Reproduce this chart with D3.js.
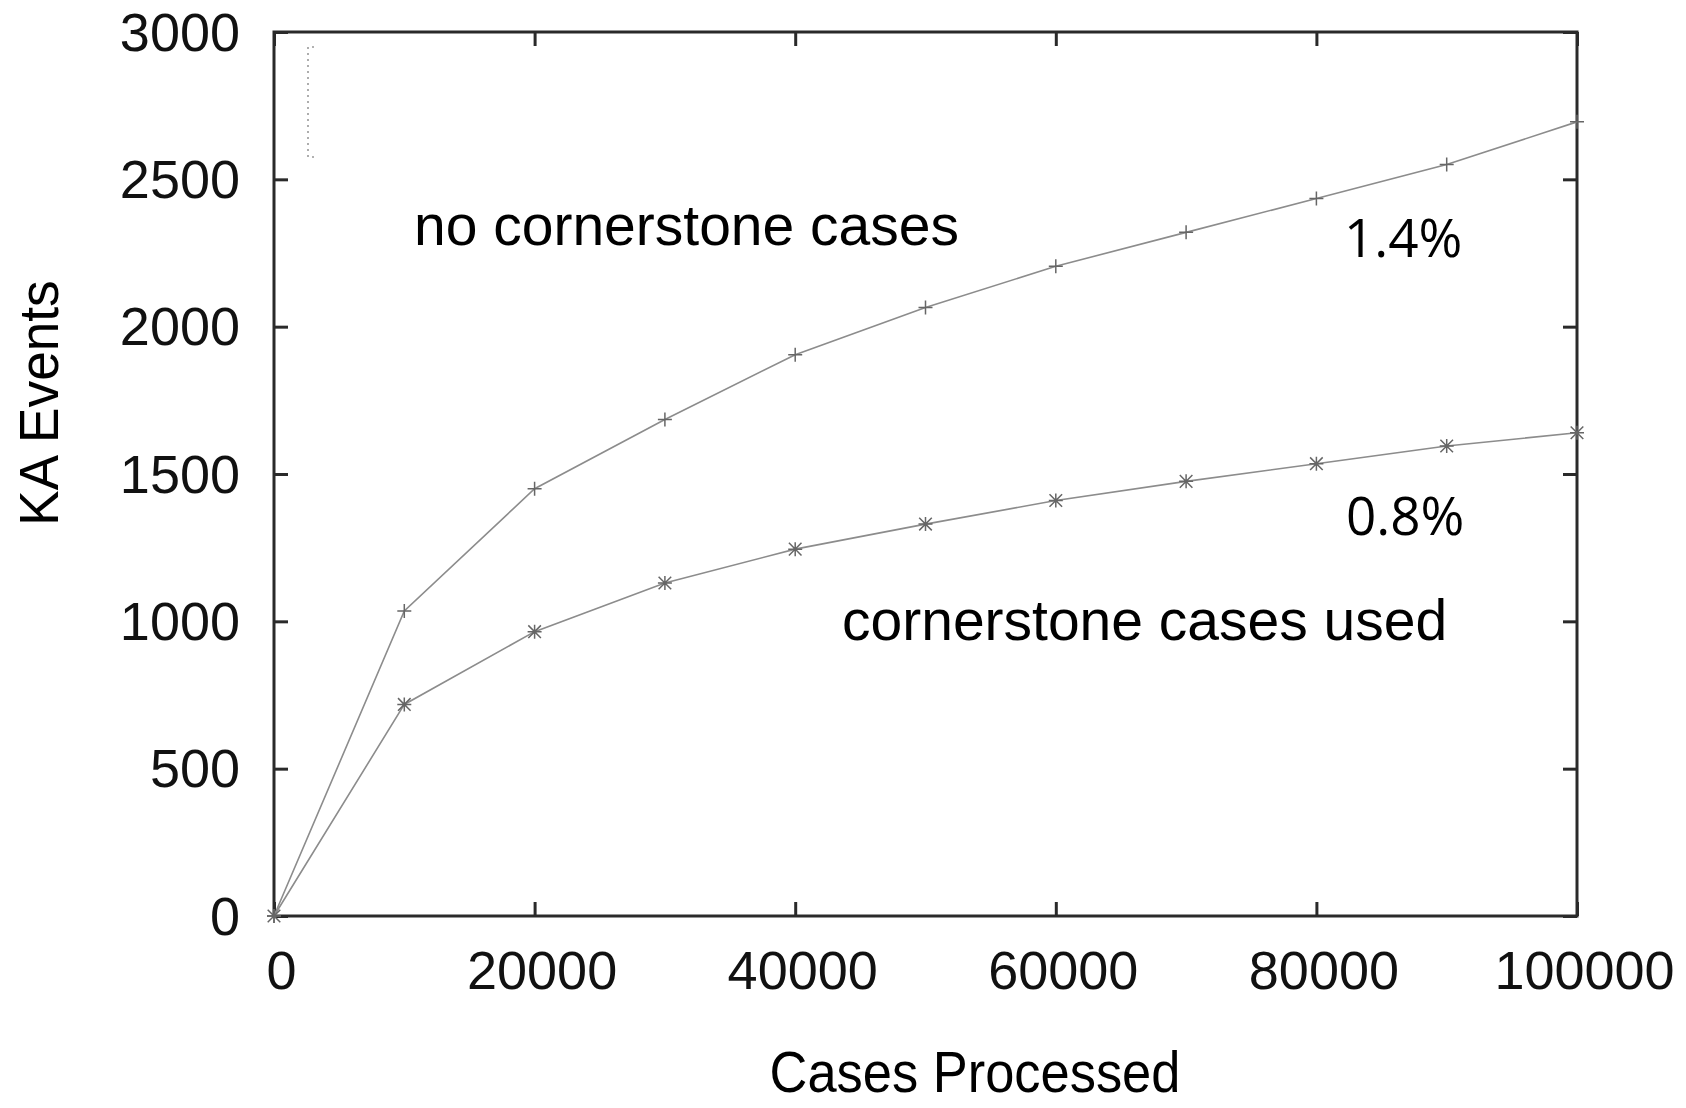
<!DOCTYPE html>
<html>
<head>
<meta charset="utf-8">
<script src="https://cdn.jsdelivr.net/npm/d3@7"></script>
<style>
  html, body { margin: 0; padding: 0; background: #fff; }
  svg { display: block; }
</style>
</head>
<body>
<svg id="chart" width="1686" height="1108"></svg>
<script>
// ---- data ----
const casesProcessed = [0, 10000, 20000, 30000, 40000, 50000, 60000, 70000, 80000, 90000, 100000];
const noCornerstone = [0, 1035, 1450, 1685, 1905, 2065, 2205, 2320, 2435, 2550, 2695];
const cornerstoneUsed = [0, 718, 965, 1130, 1245, 1330, 1410, 1475, 1535, 1595, 1640];
const xTickValues = [0, 20000, 40000, 60000, 80000, 100000];
const yTickValues = [0, 500, 1000, 1500, 2000, 2500, 3000];
const xTitle = "Cases Processed";
const yTitle = "KA Events";
const seriesLabels = ["no cornerstone cases", "cornerstone cases used"];
const percentLabels = ["1.4%", "0.8%"];

// ---- layout ----
const W = 1686, H = 1108;
const m = { left: 274, right: 109, top: 32, bottom: 192 };
const svg = d3.select("#chart");

const x = d3.scaleLinear().domain([0, 100000]).range([m.left, W - m.right]);
const y = d3.scaleLinear().domain([0, 3000]).range([H - m.bottom, m.top]);

const axisColor = "#2a2a2a";
const tickLen = 14;
const fontTick = "'Liberation Sans', Arial, Helvetica, sans-serif";

// axes using d3 axis generators (inward ticks)
const gx = svg.append("g").attr("transform", `translate(0,${y(0)})`)
  .call(d3.axisBottom(x).tickValues(xTickValues).tickSize(-tickLen).tickPadding(18).tickFormat(d3.format("d")));
const gxTop = svg.append("g").attr("transform", `translate(0,${y(3000)})`)
  .call(d3.axisTop(x).tickValues(xTickValues).tickSize(-tickLen).tickFormat(""));
const gy = svg.append("g").attr("transform", `translate(${x(0)},0)`)
  .call(d3.axisLeft(y).tickValues(yTickValues).tickSize(-tickLen).tickPadding(34).tickFormat(d3.format("d")));
const gyRight = svg.append("g").attr("transform", `translate(${x(100000)},0)`)
  .call(d3.axisRight(y).tickValues(yTickValues).tickSize(-tickLen).tickFormat(""));

[gx, gxTop, gy, gyRight].forEach(g => {
  g.select(".domain").remove();
  g.selectAll(".tick line").attr("stroke", axisColor).attr("stroke-width", 3);
});
gx.selectAll(".tick text")
  .attr("font-family", fontTick).attr("font-size", 54).attr("fill", "#111")
  .attr("dx", 7).attr("dy", 0).attr("y", 73);
gy.selectAll(".tick text")
  .attr("font-family", fontTick).attr("font-size", 54).attr("fill", "#111")
  .attr("dy", 18).attr("x", -34);

// frame
svg.append("rect")
  .attr("x", x(0)).attr("y", y(3000))
  .attr("width", x(100000) - x(0)).attr("height", y(0) - y(3000))
  .attr("fill", "none").attr("stroke", axisColor).attr("stroke-width", 3);

// small dotted bracket (key remnant)
svg.append("path")
  .attr("d", `M${m.left + 40},${m.top + 15} H${m.left + 34} V${m.top + 125} H${m.left + 40}`)
  .attr("fill", "none").attr("stroke", "#999").attr("stroke-width", 1.6)
  .attr("stroke-dasharray", "2,4");

// lines
const lineColor = "#8c8c8c";
const line = d3.line().x(d => x(d[0])).y(d => y(d[1]));
const s1 = casesProcessed.map((c, i) => [c, noCornerstone[i]]);
const s2 = casesProcessed.map((c, i) => [c, cornerstoneUsed[i]]);

svg.append("path").datum(s1).attr("d", line)
  .attr("fill", "none").attr("stroke", lineColor).attr("stroke-width", 1.6);
svg.append("path").datum(s2).attr("d", line)
  .attr("fill", "none").attr("stroke", lineColor).attr("stroke-width", 1.6);

// markers
const ms = 7;
svg.append("g").selectAll("path").data(s1).join("path")
  .attr("d", d => {
    const px = x(d[0]), py = y(d[1]);
    return `M${px - ms},${py} H${px + ms} M${px},${py - ms} V${py + ms}`;
  })
  .attr("stroke", "#666").attr("stroke-width", 1.5).attr("fill", "none");
svg.append("g").selectAll("path").data(s2).join("path")
  .attr("d", d => {
    const px = x(d[0]), py = y(d[1]), k = ms * 0.9;
    return `M${px - ms},${py} H${px + ms} M${px},${py - ms} V${py + ms}` +
      ` M${px - k},${py - k} L${px + k},${py + k} M${px - k},${py + k} L${px + k},${py - k}`;
  })
  .attr("stroke", "#666").attr("stroke-width", 1.5).attr("fill", "none");

// annotations
const fontAnno = "'Liberation Sans', Arial, Helvetica, sans-serif";
svg.append("text").attr("x", 414).attr("y", 245)
  .attr("font-family", fontAnno).attr("font-size", 57).attr("fill", "#000")
  .text(seriesLabels[0]);
svg.append("text").attr("x", 842).attr("y", 640)
  .attr("font-family", fontAnno).attr("font-size", 57).attr("fill", "#000")
  .text(seriesLabels[1]);
svg.append("text").attr("x", 1344).attr("y", 257)
  .attr("font-family", "'Open Sans', sans-serif").attr("font-size", 53).attr("fill", "#000")
  .text(percentLabels[0]);
svg.append("text").attr("x", 1346).attr("y", 535)
  .attr("font-family", "'Open Sans', sans-serif").attr("font-size", 53).attr("fill", "#000")
  .text(percentLabels[1]);

// axis titles
svg.append("text")
  .attr("transform", `translate(58,403) rotate(-90) scale(0.95,1)`)
  .attr("text-anchor", "middle")
  .attr("font-family", fontTick).attr("font-size", 56).attr("fill", "#000")
  .text(yTitle);
svg.append("text")
  .attr("transform", `translate(975,1092) scale(0.92,1)`)
  .attr("text-anchor", "middle")
  .attr("font-family", fontTick).attr("font-size", 57).attr("fill", "#000")
  .text(xTitle);
</script>
</body>
</html>
